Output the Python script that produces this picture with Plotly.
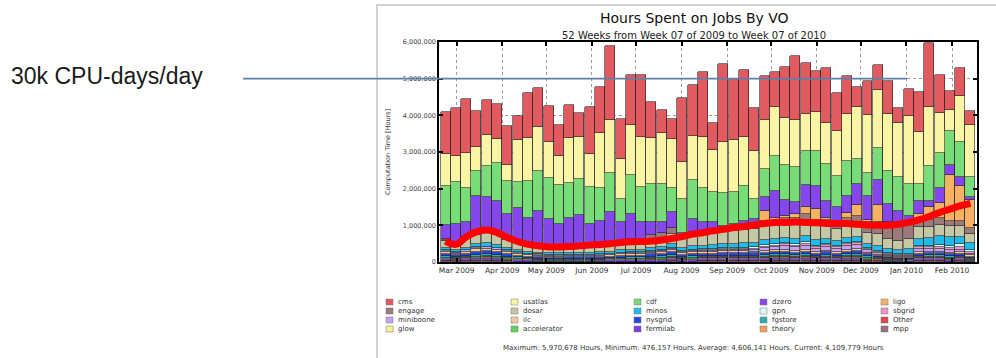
import pandas as pd
import plotly.graph_objects as go

# ---------------------------------------------------------------------------
# Weekly wall hours per VO (thousands of hours), 52 weeks starting 2009-02-18
# ---------------------------------------------------------------------------
week_starts = pd.date_range("2009-02-18", periods=52, freq="7D")

cms = [1135, 1300, 1480, 980, 960, 940, 1050, 640, 1240, 1070, 990, 850, 900, 650,
       1270, 1260, 2030, 1090, 1370, 1690, 990, 630, 540, 1730, 1380, 1780, 740, 2120,
       1660, 1810, 1150, 1200, 960, 1400, 1760, 1400, 1130, 1500, 1020, 1040, 540, 910,
       690, 890, 410, 720, 1090, 1730, 1040, 510, 750, 360]
usatlas = [870, 730, 950, 660, 840, 670, 450, 1150, 1170, 1200, 980, 800, 1220, 1160,
           900, 1480, 1420, 1080, 1370, 1370, 1230, 1380, 1330, 1030, 1220, 1370, 1150,
           1410, 1440, 1340, 1330, 1310, 1320, 1280, 1280, 1000, 1070, 1110, 1230, 1280,
           1410, 1580, 1570, 1550, 1470, 1850, 1400, 1610, 1110, 590, 1260, 1440]
cdf = [1080, 1120, 920, 680, 870, 1020, 900, 730, 990, 1080, 1110, 1050, 960, 970, 1000,
       910, 1070, 650, 1050, 970, 1060, 1040, 660, 910, 1060, 950, 810, 890, 850, 960,
       540, 790, 960, 960, 930, 930, 940, 1000, 850, 950, 690, 630, 880, 910, 910, 890,
       470, 960, 930, 920, 950, 550]
dzero = [380, 530, 420, 970, 880, 870, 640, 910, 730, 940, 750, 630, 750, 840, 580, 620,
         850, 500, 700, 460, 330, 300, 430, 80, 350, 240, 210, 60, 90, 120, 120, 360, 740,
         440, 350, 610, 630, 470, 400, 460, 570, 660, 680, 480, 350, 150, 370, 170, 430,
         270, 250, 80]
ligo = [10, 5, 15, 20, 20, 15, 10, 5, 5, 5, 0, 5, 5, 5, 5, 10, 10, 10, 10, 10, 10, 15,
        20, 10, 15, 10, 20, 15, 30, 40, 60, 270, 100, 60, 100, 200, 300, 60, 50, 150, 300,
        60, 450, 60, 20, 50, 150, 350, 400, 1250, 950, 750]
engage = [40, 30, 50, 60, 70, 60, 50, 40, 30, 30, 30, 30, 30, 30, 40, 40, 40, 50, 60, 80,
          120, 130, 160, 60, 70, 60, 70, 80, 80, 90, 100, 150, 120, 150, 180, 200, 180, 150,
          150, 160, 200, 300, 330, 400, 450, 420, 200, 200, 180, 150, 150, 160]
dosar = [200, 170, 220, 260, 280, 250, 220, 190, 170, 160, 150, 150, 160, 160, 170, 180,
         190, 200, 210, 200, 230, 240, 280, 260, 300, 320, 330, 340, 350, 360, 360, 380,
         360, 380, 380, 400, 380, 360, 340, 380, 360, 300, 320, 280, 250, 280, 330, 300,
         300, 300, 300, 250]
minos = [50, 40, 60, 80, 90, 80, 60, 50, 50, 50, 50, 50, 50, 60, 60, 60, 60, 70, 70, 70,
         80, 80, 90, 90, 100, 100, 110, 110, 120, 120, 130, 140, 130, 140, 140, 150, 140,
         130, 130, 140, 150, 120, 140, 120, 110, 130, 180, 200, 250, 220, 200, 180]
gpn = [10, 10, 10, 10, 10, 10, 10, 10, 10, 10, 10, 10, 10, 10, 10, 10, 10, 10, 10, 10, 10,
       10, 10, 10, 10, 20, 20, 20, 20, 30, 40, 60, 50, 40, 50, 60, 50, 40, 30, 40, 30, 20,
       30, 20, 20, 30, 40, 40, 60, 70, 80, 70]
ilc = [50, 40, 55, 70, 75, 70, 55, 45, 35, 30, 30, 30, 30, 30, 30, 35, 35, 40, 45, 40, 50,
       55, 60, 45, 50, 50, 50, 55, 55, 55, 50, 50, 50, 55, 50, 55, 45, 50, 45, 55, 60, 40,
       30, 25, 20, 20, 45, 45, 45, 40, 45, 30]
nysgrid = [60, 50, 65, 80, 85, 80, 65, 50, 45, 40, 35, 35, 40, 40, 35, 40, 40, 45, 50, 50,
           55, 60, 70, 55, 60, 60, 60, 65, 65, 65, 60, 60, 60, 65, 60, 65, 55, 60, 55, 65,
           70, 50, 40, 30, 30, 25, 55, 55, 55, 50, 50, 35]
fgstore = [40, 35, 40, 50, 50, 45, 35, 30, 25, 25, 20, 20, 20, 20, 25, 25, 25, 30, 30, 30,
           40, 40, 50, 35, 40, 40, 40, 45, 45, 45, 45, 50, 50, 55, 50, 55, 45, 50, 45, 55,
           55, 40, 30, 25, 20, 20, 45, 45, 45, 40, 45, 30]
fermilab = [50, 45, 55, 65, 70, 65, 50, 45, 35, 30, 30, 30, 30, 30, 30, 30, 35, 40, 45, 45,
            50, 55, 65, 50, 55, 55, 55, 60, 60, 60, 60, 60, 65, 65, 60, 70, 55, 60, 55, 65,
            70, 50, 40, 30, 30, 30, 55, 55, 55, 50, 55, 35]
miniboone = [30, 25, 30, 35, 35, 35, 30, 25, 20, 20, 20, 15, 20, 20, 20, 20, 20, 25, 25,
             25, 30, 35, 40, 30, 35, 35, 35, 40, 45, 45, 50, 70, 90, 110, 110, 110, 90, 110,
             90, 110, 110, 70, 50, 40, 35, 35, 80, 80, 75, 70, 70, 45]
sbgrid = [10, 10, 10, 10, 10, 10, 10, 10, 10, 10, 10, 10, 10, 10, 10, 10, 10, 10, 15, 10,
          15, 15, 20, 15, 20, 20, 20, 20, 20, 20, 25, 30, 35, 35, 35, 40, 35, 40, 35, 35, 40,
          30, 30, 25, 25, 25, 45, 50, 55, 60, 60, 45]
other = [15, 15, 15, 20, 20, 20, 15, 15, 10, 10, 10, 10, 10, 10, 10, 10, 10, 15, 15, 15,
         15, 20, 20, 15, 20, 20, 20, 20, 20, 20, 20, 20, 25, 25, 25, 30, 25, 30, 25, 25, 30,
         20, 20, 15, 15, 15, 25, 25, 25, 25, 25, 20]
glow = [20, 15, 20, 20, 25, 20, 20, 15, 15, 10, 10, 10, 10, 10, 10, 10, 15, 15, 15, 15,
        20, 20, 25, 20, 20, 20, 20, 20, 20, 20, 20, 25, 25, 30, 25, 25, 20, 25, 20, 30, 30,
        20, 15, 10, 10, 10, 20, 25, 25, 20, 20, 15]
accelerator = [15, 10, 15, 20, 20, 20, 15, 10, 10, 10, 5, 5, 5, 5, 5, 10, 10, 10, 10, 10,
               15, 15, 15, 15, 15, 15, 15, 15, 15, 15, 15, 15, 20, 20, 20, 20, 15, 20, 15,
               20, 25, 15, 10, 10, 5, 5, 15, 15, 15, 15, 15, 10]
theory = [10, 10, 10, 10, 10, 10, 10, 5, 5, 5, 5, 5, 5, 5, 5, 5, 5, 5, 5, 5, 5, 5, 10, 5,
          5, 10, 10, 10, 10, 10, 10, 15, 15, 15, 10, 15, 10, 10, 10, 15, 15, 10, 10, 5, 5,
          0, 10, 10, 10, 5, 10, 0]
mpp = [10, 10, 10, 10, 10, 10, 5, 5, 5, 5, 5, 5, 5, 5, 5, 5, 5, 5, 5, 5, 5, 5, 5, 5, 5, 5,
       5, 5, 5, 5, 5, 5, 5, 5, 5, 5, 5, 5, 5, 5, 5, 5, 5, 5, 5, 5, 5, 5, 5, 5, 5, 5]

# smoothed trend drawn over the stack (thousands of hours)
trend = [570, 480, 680, 820, 870, 800, 670, 560, 480, 440, 410, 410, 420, 440, 460, 480,
         500, 530, 550, 560, 570, 600, 640, 690, 760, 800, 850, 890, 940, 970, 1010, 1050,
         1080, 1080, 1090, 1080, 1070, 1050, 1050, 1050, 1030, 1010, 1000, 1000, 1030,
         1080, 1150, 1240, 1350, 1440, 1530, 1600]

month_ticks = pd.date_range("2009-03-01", "2010-02-01", freq="MS")

# VO name, values, fill colour -- listed bottom of the stack first
stack = [
    ("mpp", mpp, "#9a6e7e"),
    ("theory", theory, "#f4a05a"),
    ("fermilab", fermilab, "#7a3fe4"),
    ("accelerator", accelerator, "#5ed35e"),
    ("glow", glow, "#f8f29c"),
    ("Other", other, "#dc4452"),
    ("fgstore", fgstore, "#2aaeb0"),
    ("nysgrid", nysgrid, "#2448dc"),
    ("ilc", ilc, "#f6c79a"),
    ("miniboone", miniboone, "#c6a2f2"),
    ("sbgrid", sbgrid, "#f096cc"),
    ("gpn", gpn, "#dcfcfc"),
    ("minos", minos, "#1ebcec"),
    ("dosar", dosar, "#c4c8a4"),
    ("engage", engage, "#9c7a7a"),
    ("ligo", ligo, "#f4b262"),
    ("dzero", dzero, "#8546ec"),
    ("cdf", cdf, "#78dc78"),
    ("usatlas", usatlas, "#faf5a4"),
    ("cms", cms, "#e05a60"),
]
colour = {name: c for name, _, c in stack}

legend_columns = [
    ["cms", "engage", "miniboone", "glow"],
    ["usatlas", "dosar", "ilc", "accelerator"],
    ["cdf", "minos", "nysgrid", "fermilab"],
    ["dzero", "gpn", "fgstore", "theory"],
    ["ligo", "sbgrid", "Other", "mpp"],
]

summary = ("Maximum: 5,970,678 Hours, Minimum: 476,157 Hours, "
           "Average: 4,606,141 Hours, Current: 4,109,779 Hours")

# ---------------------------------------------------------------------------
W, H = 996, 358
L, R, T, B = 439, 19, 42, 96          # plot-area margins in pixels
PW, PH = W - L - R, H - T - B


def px(x):  # pixel column -> paper x
    return (x - L) / PW


def py(y):  # pixel row -> paper y
    return (H - B - y) / PH


FONT = "DejaVu Sans"
centers = week_starts + pd.Timedelta(hours=84)
bar_width = 7 * 86400000 * 0.97

fig = go.Figure()
for name, vals, col in stack:
    fig.add_trace(go.Bar(
        x=centers, y=[v * 1000 for v in vals], name=name, width=bar_width,
        marker=dict(color=col, line=dict(color="#222222", width=0.6)),
        showlegend=False, hoverinfo="skip",
    ))

fig.add_trace(go.Scatter(
    x=centers, y=[v * 1000 for v in trend], mode="lines",
    line=dict(color="#ff0000", width=7, shape="spline", smoothing=1.0),
    showlegend=False, hoverinfo="skip",
))

shapes = [
    # outer panel frame
    dict(type="rect", xref="paper", yref="paper", x0=px(377), x1=px(999),
         y0=py(362), y1=py(5), line=dict(color="#c4c4c4", width=1.5),
         fillcolor="rgba(0,0,0,0)", layer="below"),
    # 30k CPU-days/day reference level
    dict(type="line", xref="paper", yref="y", x0=px(243), x1=px(907),
         y0=5_000_000, y1=5_000_000, line=dict(color="#5b80aa", width=1.6),
         layer="above"),
]

annotations = [
    dict(text="Hours Spent on Jobs By VO", x=px(694), y=py(18), xref="paper",
         yref="paper", showarrow=False, font=dict(family=FONT, size=14, color="#111"),
         xanchor="center", yanchor="middle"),
    dict(text="52 Weeks from Week 07 of 2009 to Week 07 of 2010", x=px(694), y=py(35),
         xref="paper", yref="paper", showarrow=False,
         font=dict(family=FONT, size=10, color="#222"), xanchor="center",
         yanchor="middle"),
    dict(text="Computation Time [Hours]", x=px(388), y=py(152), xref="paper",
         yref="paper", showarrow=False, textangle=-90,
         font=dict(family=FONT, size=6.5, color="#333"), xanchor="center",
         yanchor="middle"),
    dict(text=summary, x=px(693), y=py(348), xref="paper", yref="paper",
         showarrow=False, font=dict(family=FONT, size=7, color="#333"),
         xanchor="center", yanchor="middle"),
    dict(text="30k CPU-days/day", x=px(9), y=py(76), xref="paper", yref="paper",
         showarrow=False, font=dict(family="Liberation Sans", size=23, color="#1a1a1a"),
         xanchor="left", yanchor="middle"),
]

col_x = [386, 511, 634, 760, 881]
row_y = [302, 311, 320, 329]
for cx, names in zip(col_x, legend_columns):
    for ry, name in zip(row_y, names):
        shapes.append(dict(type="rect", xref="paper", yref="paper",
                           x0=px(cx), x1=px(cx + 7), y0=py(ry + 3), y1=py(ry - 3),
                           fillcolor=colour[name], line=dict(color="#777", width=0.5)))
        annotations.append(dict(text=name, x=px(cx + 10), y=py(ry), xref="paper",
                                yref="paper", showarrow=False, xanchor="left",
                                yanchor="middle",
                                font=dict(family=FONT, size=7, color="#333")))

fig.update_layout(
    width=W, height=H, barmode="stack", bargap=0,
    margin=dict(l=L, r=R, t=T, b=B, pad=0),
    paper_bgcolor="white", plot_bgcolor="white",
    font=dict(family=FONT, color="#333"),
    shapes=shapes, annotations=annotations,
    xaxis=dict(
        type="date", range=["2009-02-17", "2010-02-18"],
        tickvals=month_ticks, tickformat="%b %Y",
        tickfont=dict(family=FONT, size=7.5, color="#333"),
        ticks="inside", ticklen=4, tickwidth=1.5, tickcolor="#000",
        showline=True, linecolor="#000", linewidth=1.5, mirror="ticks",
        showgrid=True, gridcolor="#9a9a9a", griddash="dot", gridwidth=1,
        zeroline=False,
    ),
    yaxis=dict(
        range=[0, 6_000_000], tickvals=[0, 1e6, 2e6, 3e6, 4e6, 5e6, 6e6],
        tickformat=",d", tickfont=dict(family=FONT, size=6.5, color="#444"),
        ticks="inside", ticklen=4, tickwidth=1.5, tickcolor="#000",
        showline=True, linecolor="#000", linewidth=1.5, mirror="ticks",
        showgrid=True, gridcolor="#9a9a9a", griddash="dot", gridwidth=1,
        zeroline=False,
    ),
)

fig.write_html("out.html")
